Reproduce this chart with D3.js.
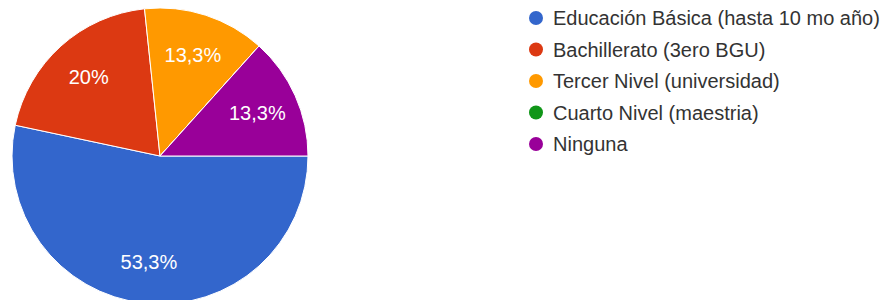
<!DOCTYPE html>
<html>
<head>
<meta charset="utf-8">
<script src="https://cdn.jsdelivr.net/npm/d3@7"></script>
<style>
  body { margin: 0; background: #fff; }
  svg { font-family: "Liberation Sans", Arial, sans-serif; }
</style>
</head>
<body>
<div id="pie-chart"></div>
<script>
// Data (15 answers)
var categories = ["Educación Básica (hasta 10 mo año)", "Bachillerato (3ero BGU)", "Tercer Nivel (universidad)", "Cuarto Nivel (maestria)", "Ninguna"];
var counts = [8, 3, 2, 0, 2];
var colors = ["#3366cc", "#dc3912", "#ff9900", "#109618", "#990099"];

var width = 893, height = 300;
var cx = 160, cy = 156, radius = 148;

var svg = d3.select("#pie-chart")
  .append("svg")
  .attr("width", width)
  .attr("height", height);

var total = d3.sum(counts);

// Pie starts at 3 o'clock and goes clockwise
var pie = d3.pie()
  .sort(null)
  .startAngle(Math.PI / 2)
  .endAngle(Math.PI / 2 + 2 * Math.PI)
  .value(function (d) { return d; });

var arc = d3.arc().innerRadius(0).outerRadius(radius);
var labelArc = d3.arc().innerRadius(radius * 0.72).outerRadius(radius * 0.72);

var g = svg.append("g")
  .attr("transform", "translate(" + cx + "," + cy + ")");

var slices = pie(counts);

g.selectAll("path.slice")
  .data(slices)
  .enter()
  .append("path")
  .attr("class", "slice")
  .attr("d", arc)
  .attr("fill", function (d, i) { return colors[i]; })
  .attr("stroke", "#fff")
  .attr("stroke-width", 1);

// percent labels, comma decimal like the original
function pctText(v) {
  var p = Math.round(v / total * 1000) / 10;
  return String(p).replace(".", ",") + "%";
}

g.selectAll("text.pct")
  .data(slices.filter(function (d) { return d.value > 0; }))
  .enter()
  .append("text")
  .attr("class", "pct")
  .attr("transform", function (d) { return "translate(" + labelArc.centroid(d) + ")"; })
  .attr("text-anchor", "middle")
  .attr("dy", "0.35em")
  .style("font-size", "20px")
  .style("fill", "#fff")
  .text(function (d) { return pctText(d.value); });

// Legend
var legend = svg.selectAll(".legendItem")
  .data(categories)
  .enter()
  .append("g")
  .attr("class", "legendItem")
  .attr("transform", function (d, i) { return "translate(536," + (18 + i * 31.5) + ")"; });

legend.append("circle")
  .attr("r", 7)
  .attr("fill", function (d, i) { return colors[i]; });

legend.append("text")
  .attr("x", 17)
  .attr("dy", "0.35em")
  .style("font-size", "20px")
  .style("fill", "#333")
  .text(function (d) { return d; });
</script>
</body>
</html>
